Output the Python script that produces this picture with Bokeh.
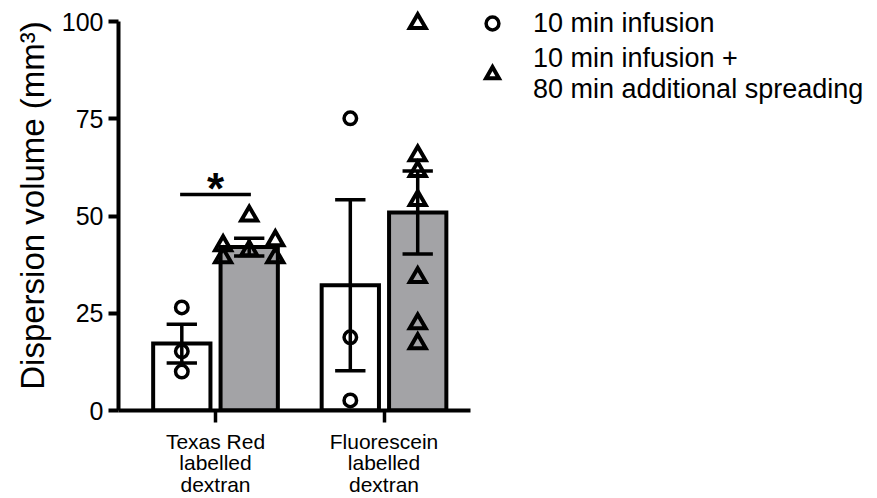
from bokeh.plotting import figure
from bokeh.models import (FixedTicker, Legend, LegendItem, Range1d)
from bokeh.core.properties import value
from bokeh.embed import file_html
from bokeh.resources import INLINE

# ---------------- data ----------------
groups = ["Texas Red\nlabelled\ndextran", "Fluorescein\nlabelled\ndextran"]
series = ["10 min infusion", "10 min infusion +\n80 min additional spreading"]
mean_10 = [17.2, 32.2]
sem_10 = [5.0, 22.0]
mean_90 = [42.0, 50.9]
sem_90 = [2.3, 10.7]
pts_10_texas = [26.5, 15.2, 10.0]
pts_10_fluor = [75.1, 18.8, 2.6]
pts_90_texas = [41.1, 42.4, 43.7, 50.0, 39.3, 39.3]
pts_90_fluor = [99.5, 65.5, 61.5, 54.0, 34.2, 22.3, 17.2]
significance = ["*"]  # between the two series of the first group

FONT = "Liberation Sans"
GRAY = "#a3a3a6"
DODGE = 0.2
BAR_W = 0.34
CAP = 0.18


def swarm(vals, gap=3.0, step=0.155):
    """GraphPad-like spreading of overlapping points into columns."""
    slots = [0, -1, 1, -2, 2]
    placed = []
    out = []
    for v in vals:
        for s in slots:
            if all(abs(v - pv) >= gap for pv, ps in placed if ps == s):
                placed.append((v, s))
                out.append(s * step)
                break
    return out


cats = [1, 2]
x10 = [c - DODGE for c in cats]
x90 = [c + DODGE for c in cats]

X0 = 0.4243
p = figure(frame_width=759, frame_height=410, output_backend="svg", toolbar_location=None,
           x_range=Range1d(X0, X0 + 759 / 168.5), y_range=Range1d(0, 410 / 3.89),
           min_border_left=118, min_border_right=0, min_border_top=0,
           min_border_bottom=88)
p.grid.visible = False
p.outline_line_color = None
p.background_fill_color = "white"
p.border_fill_color = "white"

# bars
p.vbar(x=x10, top=mean_10, width=BAR_W, fill_color="white", line_color="black",
       line_width=4, line_join="miter")
p.vbar(x=x90, top=mean_90, width=BAR_W, fill_color=GRAY, line_color="black",
       line_width=4, line_join="miter")

# error bars (mean +/- SEM)
for xs, m, s in ((x10, mean_10, sem_10), (x90, mean_90, sem_90)):
    lo = [a - b for a, b in zip(m, s)]
    hi = [a + b for a, b in zip(m, s)]
    p.segment(x0=xs, x1=xs, y0=lo, y1=hi, line_color="black", line_width=3.5)
    p.segment(x0=[x - CAP / 2 for x in xs], x1=[x + CAP / 2 for x in xs], y0=hi, y1=hi,
              line_color="black", line_width=3.5)
    p.segment(x0=[x - CAP / 2 for x in xs], x1=[x + CAP / 2 for x in xs], y0=lo, y1=lo,
              line_color="black", line_width=3.5)

# individual points
px10, py10 = [], []
for xc, vals in zip(x10, (pts_10_texas, pts_10_fluor)):
    for off, v in zip(swarm(vals), vals):
        px10.append(xc + off)
        py10.append(v)
px90, py90 = [], []
for xc, vals in zip(x90, (pts_90_texas, pts_90_fluor)):
    for off, v in zip(swarm(vals), vals):
        px90.append(xc + off)
        py90.append(v)

r10 = p.scatter(x=px10, y=py10, marker="circle", size=12.5, fill_alpha=0,
                line_color="black", line_width=3.5)
r90 = p.scatter(x=px90, y=py90, marker="triangle", size=16, fill_alpha=0,
                line_color="black", line_width=4, line_join="miter")

# significance bar
top_pair = max(pts_10_texas + pts_90_texas)
sig_y = top_pair + 5.5
p.segment(x0=[x10[0] - 0.01], x1=[x90[0] + 0.01], y0=[sig_y], y1=[sig_y],
          line_color="black", line_width=3.5)
p.text(x=[cats[0]], y=[sig_y + 1.6], text=significance, text_align="center",
       text_baseline="alphabetic", text_font=value(FONT), text_font_style="bold",
       text_font_size="44px", text_color="black")

# axes
yax = p.yaxis[0]
yax.ticker = FixedTicker(ticks=[0, 25, 50, 75, 100])
yax.bounds = (0, 100)
yax.axis_line_width = 4
yax.major_tick_line_width = 4
yax.major_tick_out = 10
yax.major_tick_in = 0
yax.minor_tick_line_color = None
yax.major_label_text_font = FONT
yax.major_label_text_font_size = "25px"
yax.major_label_text_color = "black"
yax.major_label_standoff = 5
yax.axis_label = "Dispersion volume (mm³)"
yax.axis_label_text_font = FONT
yax.axis_label_text_font_size = "33px"
yax.axis_label_text_font_style = "normal"
yax.axis_label_text_color = "black"
yax.axis_label_standoff = 8

xax = p.xaxis[0]
xax.ticker = FixedTicker(ticks=cats)
xax.major_label_overrides = {c: g for c, g in zip(cats, groups)}
xax.bounds = (X0, X0 + 352 / 168.5)
xax.axis_line_width = 4
xax.major_tick_line_width = 3.5
xax.major_tick_out = 12
xax.major_tick_in = 0
xax.minor_tick_line_color = None
xax.major_label_text_font = FONT
xax.major_label_text_font_size = "21px"
xax.major_label_text_color = "black"
xax.major_label_text_line_height = 0.95
xax.major_label_standoff = 7

legend = Legend(items=[LegendItem(label=series[0], renderers=[r10]),
                       LegendItem(label=series[1], renderers=[r90])],
                location=(358, 305), border_line_color=None, background_fill_alpha=0,
                label_text_font=FONT, label_text_font_size="27px",
                label_text_color="black", label_text_line_height=1.3,
                glyph_width=32, glyph_height=32, label_standoff=25,
                padding=0, margin=0, spacing=4)
p.add_layout(legend, "center")

open("out.html", "w").write(file_html(p, INLINE))
